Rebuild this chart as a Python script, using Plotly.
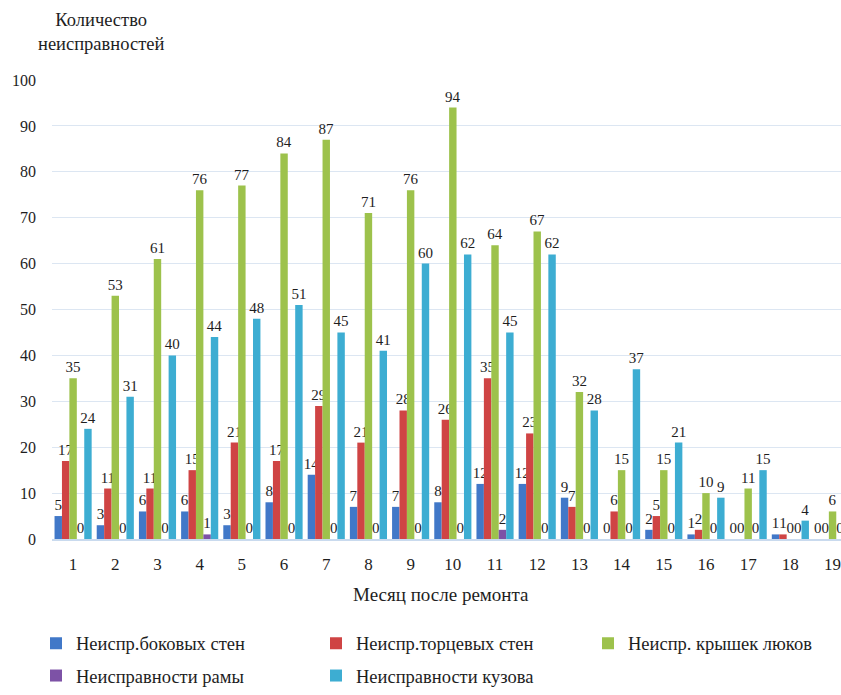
import plotly.graph_objects as go

# Months after repair
months = list(range(1, 20))

# Fault counts per month
side_walls = [5, 3, 6, 6, 3, 8, 14, 7, 7, 8, 12, 12, 9, 0, 2, 1, 0, 1, 0]
end_walls = [17, 11, 11, 15, 21, 17, 29, 21, 28, 26, 35, 23, 7, 6, 5, 2, 0, 1, 0]
hatch_covers = [35, 53, 61, 76, 77, 84, 87, 71, 76, 94, 64, 67, 32, 15, 15, 10, 11, 0, 6]
frame = [0, 0, 0, 1, 0, 0, 0, 0, 0, 0, 2, 0, 0, 0, 0, 0, 0, 0, 0]
body = [24, 31, 40, 44, 48, 51, 45, 41, 60, 62, 45, 62, 28, 37, 21, 9, 15, 4, None]

# name, values, colour, legend id
series = [
    ("Неиспр.боковых стен", side_walls, "#4178C8", "legend"),
    ("Неиспр.торцевых стен", end_walls, "#CF4444", "legend2"),
    ("Неиспр. крышек люков", hatch_covers, "#9DC24C", "legend3"),
    ("Неисправности рамы", frame, "#7D52A6", "legend4"),
    ("Неисправности кузова", body, "#3DADD2", "legend5"),
]

FONT = "Liberation Serif"
INK = "#1E1E1E"

W, H = 841, 695
ML, MR, MT, MB = 52, 0, 80, 150
plot_w = W - ML - MR
plot_h = H - MT - MB


def px_x(x):
    """Paper x for a pixel column."""
    return (x - ML) / plot_w


def px_y(y):
    """Paper y for a pixel row."""
    return (H - MB - y) / plot_h


fig = go.Figure()
for name, vals, color, leg in series:
    fig.add_trace(go.Bar(
        x=months,
        y=vals,
        name=name,
        legend=leg,
        showlegend=True,
        marker=dict(color=color, line=dict(width=0)),
        text=[("" if v is None else str(v)) for v in vals],
        textposition="outside",
        textfont=dict(family=FONT, size=15, color=INK),
        constraintext="none",
        cliponaxis=False,
    ))


def legend_at(x_px, y_px):
    return dict(
        visible=True,
        orientation="h",
        x=px_x(x_px),
        y=px_y(y_px),
        xanchor="left",
        yanchor="middle",
        itemwidth=30,
        font=dict(family=FONT, size=18.5, color=INK),
        bgcolor="rgba(0,0,0,0)",
    )


fig.update_layout(
    width=W,
    height=H,
    margin=dict(l=ML, r=MR, t=MT, b=MB),
    paper_bgcolor="white",
    plot_bgcolor="white",
    barmode="group",
    bargap=0.12,
    bargroupgap=0,
    showlegend=True,
    font=dict(family=FONT, size=17, color=INK),
    xaxis=dict(
        range=[0.5, 19.2],
        tickmode="array",
        tickvals=months,
        ticktext=[str(m) for m in months],
        showgrid=False,
        showline=True,
        linecolor="#C9DAEE",
        linewidth=1.5,
        ticks="",
        ticklabelstandoff=9,
        ticklabeloverflow="allow",
        tickfont=dict(family=FONT, size=17, color=INK),
        zeroline=False,
    ),
    yaxis=dict(
        range=[0, 100],
        dtick=10,
        showgrid=True,
        gridcolor="#DCE6F2",
        gridwidth=1,
        zeroline=False,
        showline=False,
        ticks="",
        ticklabelstandoff=15,
        tickfont=dict(family=FONT, size=16, color=INK),
    ),
    legend=legend_at(36, 651),
    legend2=legend_at(316, 651),
    legend3=legend_at(588, 651),
    legend4=legend_at(36, 684),
    legend5=legend_at(316, 684),
    annotations=[
        dict(
            text="Количество<br>неисправностей",
            x=px_x(101), y=px_y(31), xref="paper", yref="paper",
            xanchor="center", yanchor="middle",
            showarrow=False,
            font=dict(family=FONT, size=18.5, color=INK),
            align="center",
        ),
        dict(
            text="Месяц после ремонта",
            x=px_x(441), y=px_y(601), xref="paper", yref="paper",
            xanchor="center", yanchor="middle",
            showarrow=False,
            font=dict(family=FONT, size=19, color=INK),
        ),
    ],
)

fig.write_html("out.html")
